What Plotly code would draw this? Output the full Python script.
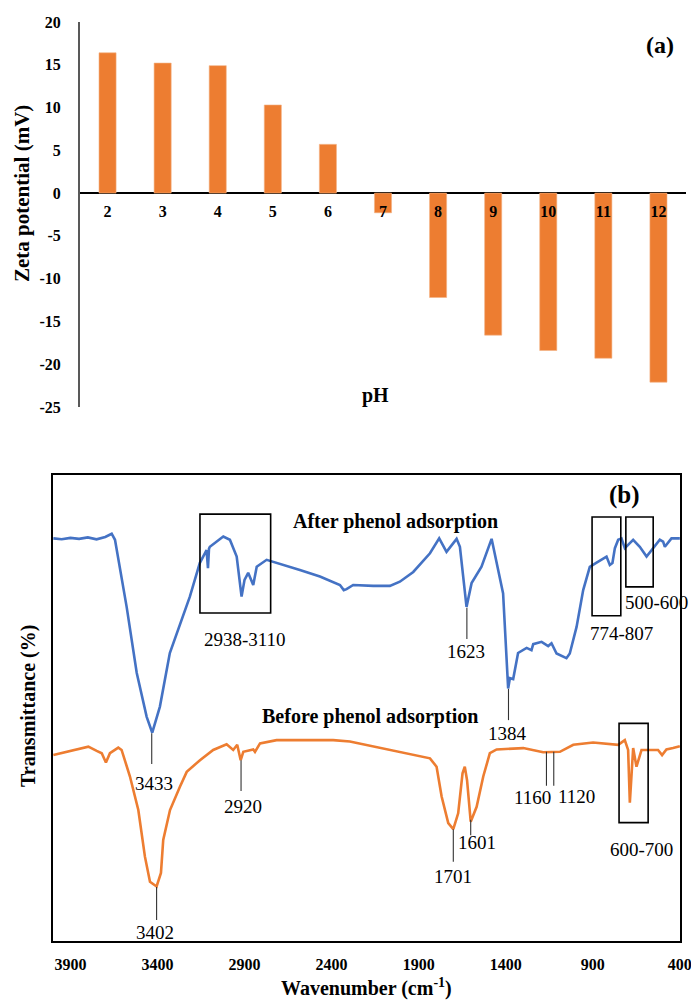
import plotly.graph_objects as go

# ---- (a) zeta potential vs pH ----
ph_labels = ["2", "3", "4", "5", "6", "7", "8", "9", "10", "11", "12"]
zeta_mv = [16.4, 15.2, 14.9, 10.3, 5.7, -2.3, -12.2, -16.6, -18.4, -19.3, -22.1]
zeta_ticks = [20, 15, 10, 5, 0, -5, -10, -15, -20, -25]

# ---- (b) FTIR spectra ----
after_wn = [3998, 3950, 3900, 3850, 3800, 3750, 3700, 3673, 3663, 3644, 3577, 3519, 3462,
            3430, 3386, 3329, 3271, 3214, 3157, 3118, 3110, 3104, 3099, 3022, 2984, 2960,
            2945, 2917, 2900, 2879, 2850, 2830, 2773, 2582, 2467, 2352, 2330, 2314, 2276,
            2161, 2065, 2008, 1931, 1835, 1782, 1740, 1682, 1663, 1625, 1596, 1539, 1481,
            1452, 1415, 1386, 1376, 1357, 1329, 1280, 1252, 1242, 1194, 1156, 1137, 1108,
            1051, 1032, 993, 955, 917, 878, 821, 802, 787, 773, 754, 735, 716, 668, 630,
            591, 553, 515, 496, 486, 448, 400]
after_t = [86.4, 86.2, 86.5, 86.3, 86.6, 86.2, 86.7, 87.1, 87.4, 86.1, 71.7, 57.5, 48.1,
           44.7, 50.3, 61.8, 67.8, 73.9, 81.1, 83.9, 80.0, 84.2, 84.6, 86.8, 86.1, 84.0,
           82.5, 73.9, 77.5, 79.0, 76.4, 80.3, 81.8, 79.6, 78.2, 76.4, 75.3, 75.5, 76.4,
           76.2, 76.2, 77.1, 79.2, 83.2, 86.4, 83.5, 86.3, 84.6, 71.7, 76.8, 80.3, 86.3,
           81.1, 74.6, 54.2, 56.4, 56.2, 61.8, 62.9, 62.4, 63.7, 64.2, 63.3, 63.9, 61.7,
           60.7, 61.7, 67.4, 75.3, 80.3, 81.2, 82.5, 80.7, 81.1, 84.3, 86.1, 86.4, 84.3,
           86.1, 84.6, 82.5, 84.3, 86.1, 85.7, 84.6, 86.4, 86.4]

before_wn = [3998, 3921, 3845, 3797, 3749, 3720, 3696, 3673, 3625, 3606, 3558, 3510, 3472,
             3443, 3405, 3380, 3367, 3328, 3271, 3232, 3156, 3080, 3003, 2965, 2942, 2922,
             2907, 2850, 2840, 2811, 2716, 2391, 2295, 2065, 1969, 1835, 1797, 1768, 1730,
             1701, 1673, 1648, 1635, 1622, 1601, 1567, 1529, 1491, 1452, 1299, 1185, 1146,
             1089, 1012, 898, 754, 716, 697, 687, 668, 649, 620, 582, 525, 502, 477, 439, 400]
before_t = [39.9, 40.6, 41.4, 41.7, 40.8, 40.3, 38.3, 40.3, 41.5, 41.0, 35.3, 28.1, 18.1,
            12.7, 11.7, 14.6, 21.7, 28.1, 33.1, 36.3, 38.8, 41.0, 42.2, 41.0, 42.1, 38.8,
            40.6, 41.1, 40.6, 42.4, 43.1, 43.1, 42.8, 41.0, 40.4, 39.2, 37.4, 31.0, 25.3,
            24.0, 27.4, 36.0, 37.4, 34.5, 25.6, 28.8, 35.3, 40.3, 41.1, 41.4, 40.5, 40.6,
            40.6, 42.1, 42.6, 42.1, 43.1, 41.0, 29.7, 41.4, 37.4, 41.0, 41.0, 41.0, 39.9,
            41.1, 41.4, 41.8]

wn_ticks = [3900, 3400, 2900, 2400, 1900, 1400, 900, 400]

# peak markers: (label, wavenumber, line top, line bottom, label x, label y)
peak_marks = [
    ("3433", 3433, 44.6, 38.0, 3420, 33.7),
    ("3402", 3405, 11.6, 4.5, 3414, 1.9),
    ("2920", 2920, 38.8, 32.2, 2909, 28.8),
    ("1623", 1623, 71.5, 64.8, 1629, 62.1),
    ("1384", 1384, 54.1, 47.4, 1387, 44.6),
    ("1701", 1701, 24.0, 17.0, 1702, 13.9),
    ("1601", 1601, 26.0, 22.7, 1563, 21.1),
    ("1160", 1166, 40.6, 33.3, 1246, 30.7),
    ("1120", 1124, 40.6, 33.3, 993, 31.0),
]
# highlighted regions: (label, wn left, wn right, top, bottom, label x, label y)
region_boxes = [
    ("2938-3110", 3156, 2750, 91.6, 70.4, 2898, 64.8),
    ("774-807", 904, 739, 91.0, 69.8, 735, 65.9),
    ("500-600", 710, 553, 91.0, 76.0, 534, 72.7),
    ("600-700", 749, 582, 46.7, 25.4, 620, 19.7),
]

SERIF = "Liberation Serif"
ORANGE = "#ED7D31"
BLUE = "#4472C4"

fig = go.Figure()

fig.add_trace(go.Bar(
    x=ph_labels, y=zeta_mv, width=0.31,
    marker=dict(color=ORANGE, line=dict(color="#F4B183", width=0.6)),
    xaxis="x", yaxis="y", showlegend=False,
))
fig.add_trace(go.Scatter(
    x=after_wn, y=after_t, mode="lines", line=dict(color=BLUE, width=2.6),
    xaxis="x2", yaxis="y2", showlegend=False,
))
fig.add_trace(go.Scatter(
    x=before_wn, y=before_t, mode="lines", line=dict(color=ORANGE, width=2.6),
    xaxis="x2", yaxis="y2", showlegend=False,
))

W, H = 691, 1003
top_dom_x = [80 / W, 686 / W]
top_dom_y = [1 - 407 / H, 1 - 22 / H]
bot_dom_x = [53 / W, 680 / W]
bot_dom_y = [1 - 941 / H, 1 - 475 / H]

bold16 = dict(family=SERIF, size=16, color="black", weight="bold")

fig.update_layout(
    width=W, height=H,
    margin=dict(l=0, r=0, t=0, b=0, autoexpand=False),
    paper_bgcolor="white", plot_bgcolor="white",
    font=dict(family=SERIF, color="black"),
    bargap=0.69,
    xaxis=dict(
        domain=top_dom_x, anchor="free", position=1 - 200 / H, automargin=False,
        type="category", showline=False, showgrid=False, ticks="",
        tickfont=bold16, ticklabelstandoff=0,
    ),
    yaxis=dict(
        domain=top_dom_y, anchor="x", range=[-25, 20], automargin=False,
        tickvals=zeta_ticks, ticktext=[str(v) for v in zeta_ticks],
        showgrid=False, showline=True, linecolor="#595959", linewidth=2,
        zeroline=True, zerolinecolor="black", zerolinewidth=2,
        ticks="", tickfont=bold16, ticklabelstandoff=14,
    ),
    xaxis2=dict(
        domain=bot_dom_x, anchor="y2", range=[4000, 399], automargin=False,
        tickvals=wn_ticks, ticktext=[str(v) for v in wn_ticks],
        ticklabeloverflow="allow",
        showgrid=False, zeroline=False, showline=True, mirror=True,
        linecolor="black", linewidth=1.8, ticks="", tickfont=bold16,
        ticklabelstandoff=8,
    ),
    yaxis2=dict(
        domain=bot_dom_y, anchor="x2", range=[0, 100], automargin=False,
        showgrid=False, zeroline=False, showline=True, mirror=True,
        linecolor="black", linewidth=1.8, ticks="", showticklabels=False,
    ),
)

shapes = []
annots = []
for lab, wn, y0, y1, lx, ly in peak_marks:
    shapes.append(dict(type="line", xref="x2", yref="y2", x0=wn, x1=wn, y0=y0, y1=y1,
                       line=dict(color="#333333", width=1.1)))
    annots.append(dict(xref="x2", yref="y2", x=lx, y=ly, text=lab, showarrow=False,
                       font=dict(family=SERIF, size=19, color="black"),
                       xanchor="center", yanchor="middle"))
for lab, xa, xb, yt, yb, lx, ly in region_boxes:
    shapes.append(dict(type="rect", xref="x2", yref="y2", x0=xa, x1=xb, y0=yb, y1=yt,
                       line=dict(color="black", width=1.6), fillcolor="rgba(0,0,0,0)"))
    annots.append(dict(xref="x2", yref="y2", x=lx, y=ly, text=lab, showarrow=False,
                       font=dict(family=SERIF, size=19, color="black"),
                       xanchor="center", yanchor="middle"))

# series labels and panel tags
annots += [
    dict(xref="x2", yref="y2", x=2031, y=90.1, text="<b>After phenol adsorption</b>",
         showarrow=False, font=dict(family=SERIF, size=20), xanchor="center", yanchor="middle"),
    dict(xref="x2", yref="y2", x=2180, y=48.1, text="<b>Before phenol adsorption</b>",
         showarrow=False, font=dict(family=SERIF, size=20), xanchor="center", yanchor="middle"),
    dict(xref="x2", yref="y2", x=716, y=95.7, text="<b>(b)</b>",
         showarrow=False, font=dict(family=SERIF, size=25), xanchor="center", yanchor="middle"),
    dict(xref="paper", yref="paper", x=660 / W, y=1 - 45 / H, text="<b>(a)</b>",
         showarrow=False, font=dict(family=SERIF, size=24), xanchor="center", yanchor="middle"),
    dict(xref="paper", yref="paper", x=375 / W, y=1 - 395 / H, text="<b>pH</b>",
         showarrow=False, font=dict(family=SERIF, size=20), xanchor="center", yanchor="middle"),
    dict(xref="paper", yref="paper", x=22 / W, y=1 - 194 / H, text="<b>Zeta potential (mV)</b>",
         textangle=-90, showarrow=False, font=dict(family=SERIF, size=21),
         xanchor="center", yanchor="middle"),
    dict(xref="paper", yref="paper", x=28 / W, y=1 - 706 / H, text="<b>Transmittance (%)</b>",
         textangle=-90, showarrow=False, font=dict(family=SERIF, size=20),
         xanchor="center", yanchor="middle"),
    dict(xref="paper", yref="paper", x=366 / W, y=1 - 1002 / H,
         text="<b>Wavenumber (cm<sup>-1</sup>)</b>",
         showarrow=False, font=dict(family=SERIF, size=20), xanchor="center", yanchor="bottom"),
]

fig.update_layout(shapes=shapes, annotations=annots)
fig.write_html("out.html")
